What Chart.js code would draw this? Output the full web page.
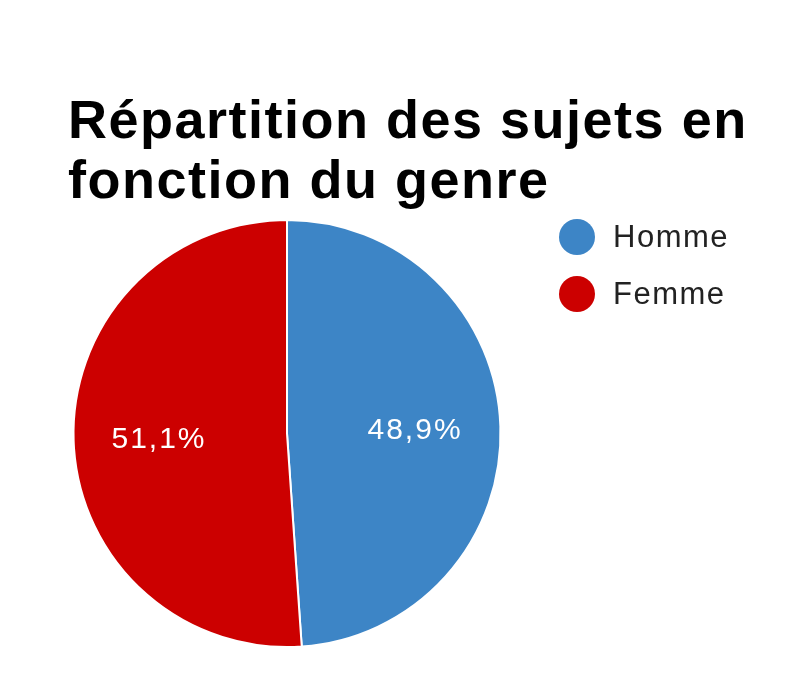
<!DOCTYPE html>
<html>
<head>
<meta charset="utf-8">
<script src="https://cdn.jsdelivr.net/npm/chart.js@4.4.0/dist/chart.umd.min.js"></script>
<style>
  html, body { margin: 0; padding: 0; background: #fff; }
  canvas { display: block; }
</style>
</head>
<body>
<canvas id="genreChart" width="795" height="676"></canvas>
<script>
// Data
const categories = ['Homme', 'Femme'];
const shares = [48.9, 51.1];
const sliceColors = ['#3d85c6', '#cc0000'];
const titleLines = ['Répartition des sujets en', 'fonction du genre'];

const FONT = '"Liberation Sans", Arial, sans-serif';

// Title, legend and in-slice percentages drawn on top of the pie
const overlayPlugin = {
    id: 'overlay',
    afterDraw(chart) {
        const ctx = chart.ctx;
        ctx.save();

        // title (two lines, left aligned)
        ctx.fillStyle = '#000';
        ctx.font = 'bold 54px ' + FONT;
        ctx.letterSpacing = '1.5px';
        ctx.textAlign = 'left';
        ctx.textBaseline = 'alphabetic';
        titleLines.forEach((line, i) => ctx.fillText(line, 68, 138 + i * 60));

        // legend
        ctx.letterSpacing = '1.5px';
        ctx.font = '31px ' + FONT;
        ctx.textBaseline = 'middle';
        categories.forEach((name, i) => {
            const y = 237 + i * 57;
            ctx.beginPath();
            ctx.arc(577, y, 18, 0, Math.PI * 2);
            ctx.fillStyle = sliceColors[i];
            ctx.fill();
            ctx.fillStyle = '#222';
            ctx.fillText(name, 613, y + 1);
        });

        // percentages inside the slices
        const meta = chart.getDatasetMeta(0);
        ctx.fillStyle = '#fff';
        ctx.font = '30px ' + FONT;
        ctx.letterSpacing = '2px';
        ctx.textAlign = 'center';
        meta.data.forEach((arc, i) => {
            const p = arc.getProps(['x', 'y', 'startAngle', 'endAngle', 'outerRadius'], true);
            const mid = (p.startAngle + p.endAngle) / 2;
            const r = p.outerRadius * 0.6;
            const txt = shares[i].toFixed(1).replace('.', ',') + '%';
            ctx.fillText(txt, p.x + Math.cos(mid) * r, p.y + Math.sin(mid) * r + 2);
        });

        ctx.restore();
    }
};

new Chart(document.getElementById('genreChart'), {
    type: 'pie',
    data: {
        labels: categories,
        datasets: [{
            data: shares,
            backgroundColor: sliceColors,
            borderColor: '#ffffff',
            borderWidth: 2
        }]
    },
    options: {
        responsive: false,
        animation: false,
        layout: { padding: { left: 72, top: 219, right: 293, bottom: 28 } },
        plugins: {
            legend: { display: false },
            title: { display: false },
            tooltip: { enabled: false }
        }
    },
    plugins: [overlayPlugin]
});
</script>
</body>
</html>
